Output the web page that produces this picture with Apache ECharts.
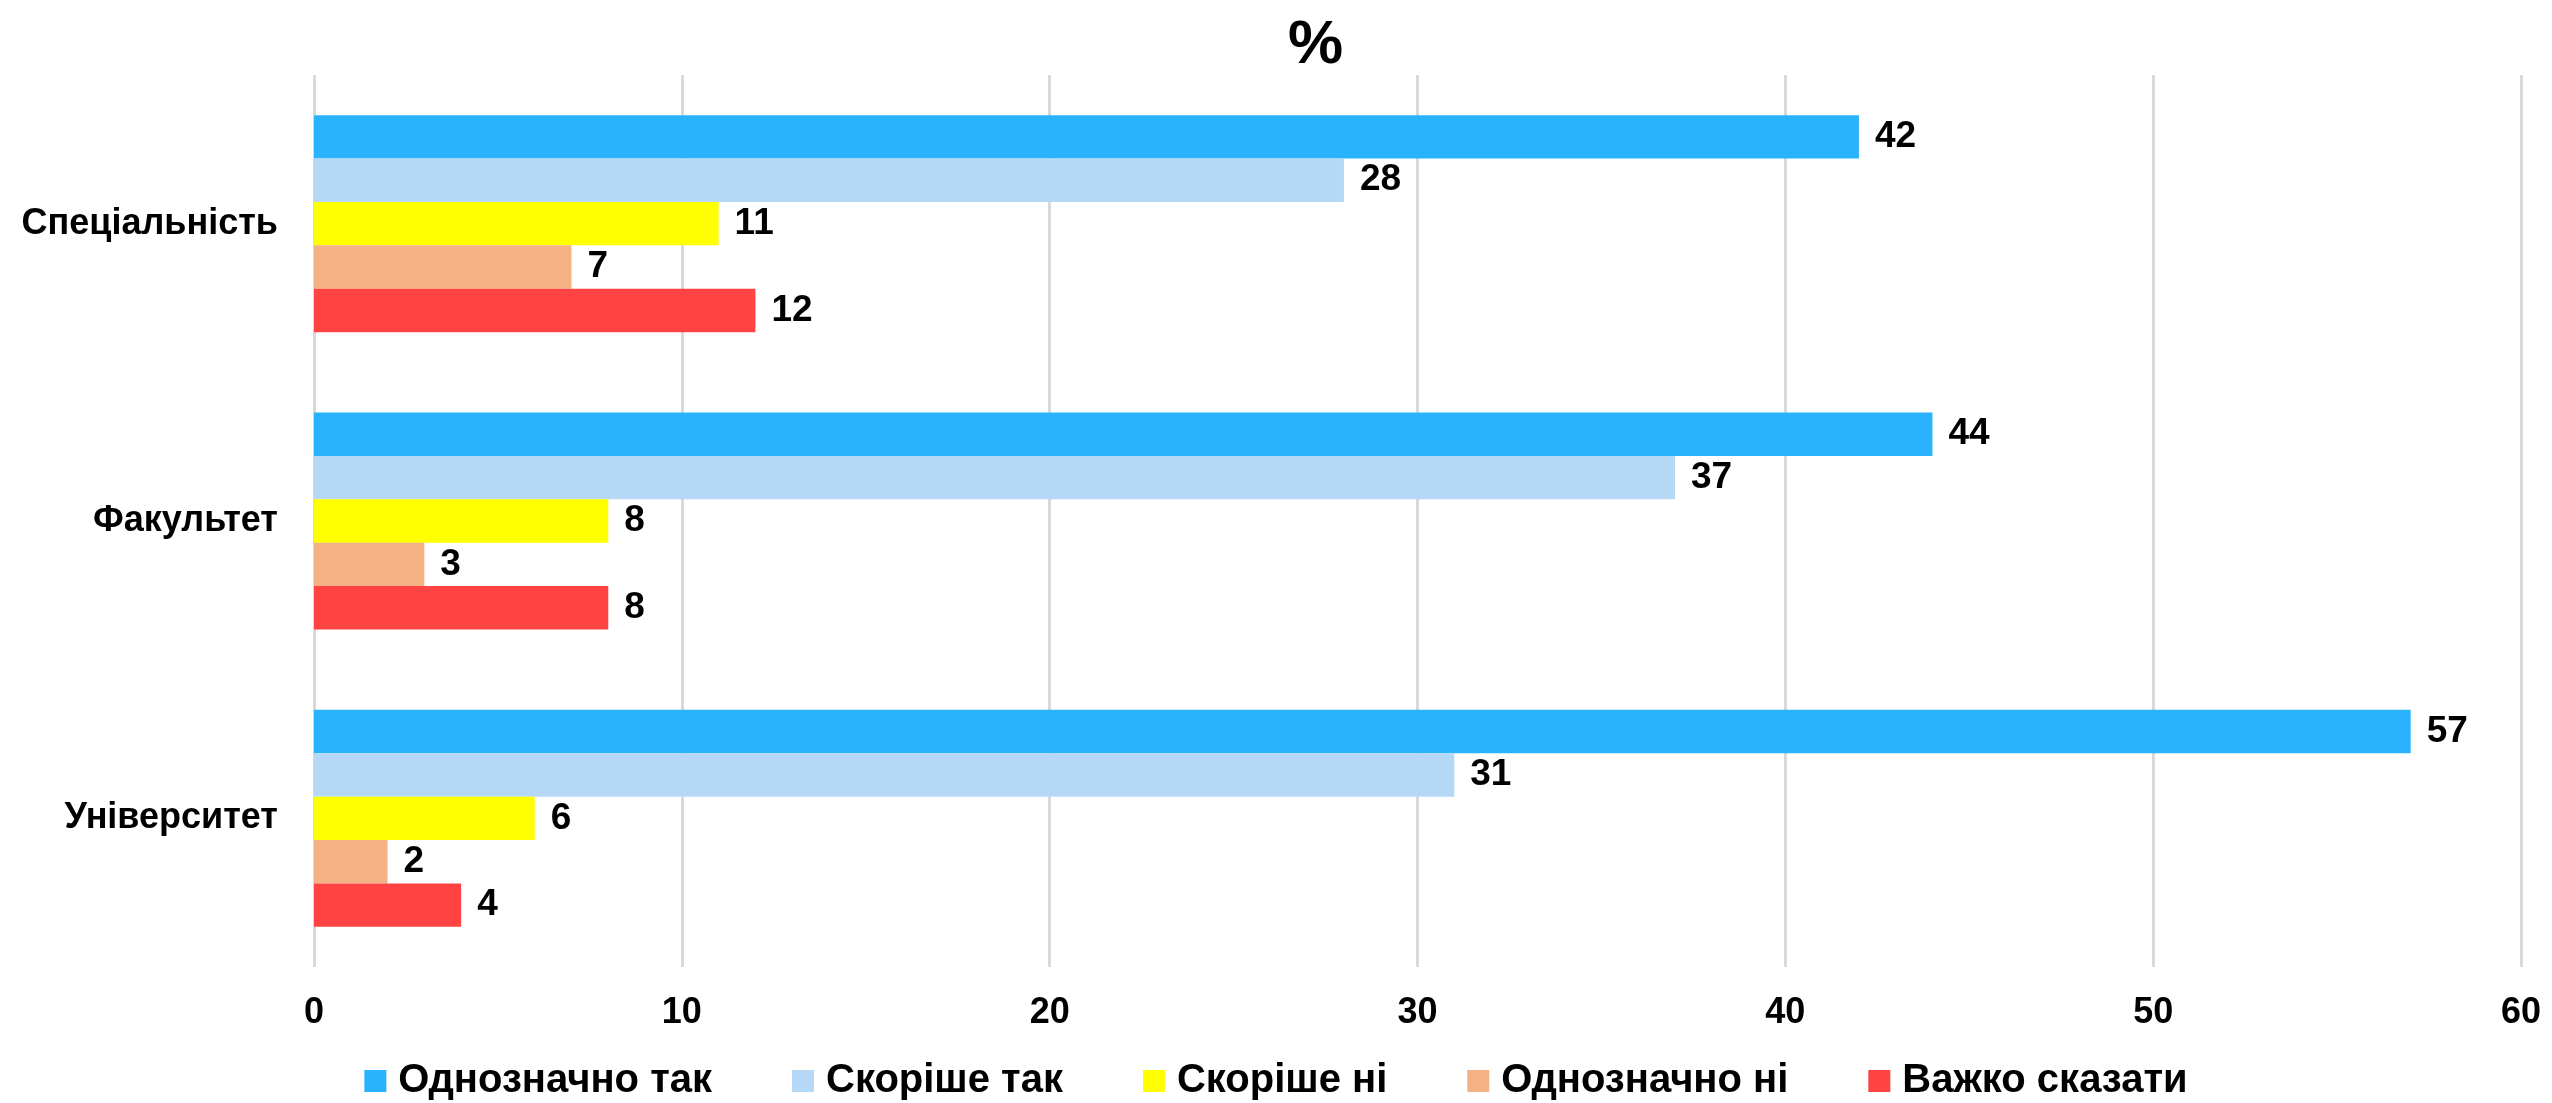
<!DOCTYPE html>
<html>
<head>
<meta charset="utf-8">
<script src="https://cdn.jsdelivr.net/npm/echarts@6/dist/echarts.min.js"></script>
<style>
html,body{margin:0;padding:0;background:#fff;}
#chart{width:2552px;height:1103px;}
</style>
</head>
<body>
<div id="chart"></div>
<script>
const categories = ['Спеціальність', 'Факультет', 'Університет'];
const seriesNames = ['Однозначно так', 'Скоріше так', 'Скоріше ні', 'Однозначно ні', 'Важко сказати'];
const definitelyYes = [42, 44, 57];
const ratherYes = [28, 37, 31];
const ratherNo = [11, 8, 6];
const definitelyNo = [7, 3, 2];
const hardToSay = [12, 8, 4];
const xTicks = [0, 10, 20, 30, 40, 50, 60];

const seriesData = [definitelyYes, ratherYes, ratherNo, definitelyNo, hardToSay];
const colors = ['#29B3FC', '#B5D8F7', '#FFFF00', '#F4B183', '#FF4343'];
const FONT = '"Liberation Sans", Arial, sans-serif';

const chart = echarts.init(document.getElementById('chart'));
chart.setOption({
  animation: false,
  backgroundColor: '#ffffff',
  title: {
    text: '%',
    left: 1283,
    top: 10,
    textStyle: { fontFamily: FONT, fontSize: 62, fontWeight: 'bold', color: '#000' }
  },
  legend: {
    data: seriesNames,
    left: 'center',
    top: 1056,
    icon: 'rect',
    itemWidth: 22,
    itemHeight: 22,
    itemGap: 80,
    textStyle: { fontFamily: FONT, fontSize: 40, fontWeight: 'bold', color: '#000', padding: [0, 0, 0, 7] }
  },
  grid: { left: 314, right: 31, top: 75, bottom: 136, containLabel: false },
  xAxis: {
    type: 'value',
    min: xTicks[0],
    max: xTicks[xTicks.length - 1],
    interval: xTicks[1] - xTicks[0],
    axisLine: { show: false },
    axisTick: { show: false },
    splitLine: { show: true, lineStyle: { color: '#d9d9d9', width: 3 } },
    axisLabel: { fontFamily: FONT, fontSize: 36, fontWeight: 'bold', color: '#000', margin: 28 }
  },
  yAxis: {
    type: 'category',
    data: categories,
    inverse: true,
    axisLine: { show: false },
    axisTick: { show: false },
    axisLabel: { fontFamily: FONT, fontSize: 36, fontWeight: 'bold', color: '#000', margin: 36 }
  },
  series: seriesNames.map((name, i) => ({
    name: name,
    type: 'bar',
    data: seriesData[i],
    barGap: '0%',
    barCategoryGap: '27%',
    itemStyle: { color: colors[i] },
    label: {
      show: true,
      position: 'right',
      distance: 16,
      fontFamily: FONT,
      fontSize: 37,
      fontWeight: 'bold',
      color: '#000'
    }
  }))
});
</script>
</body>
</html>
